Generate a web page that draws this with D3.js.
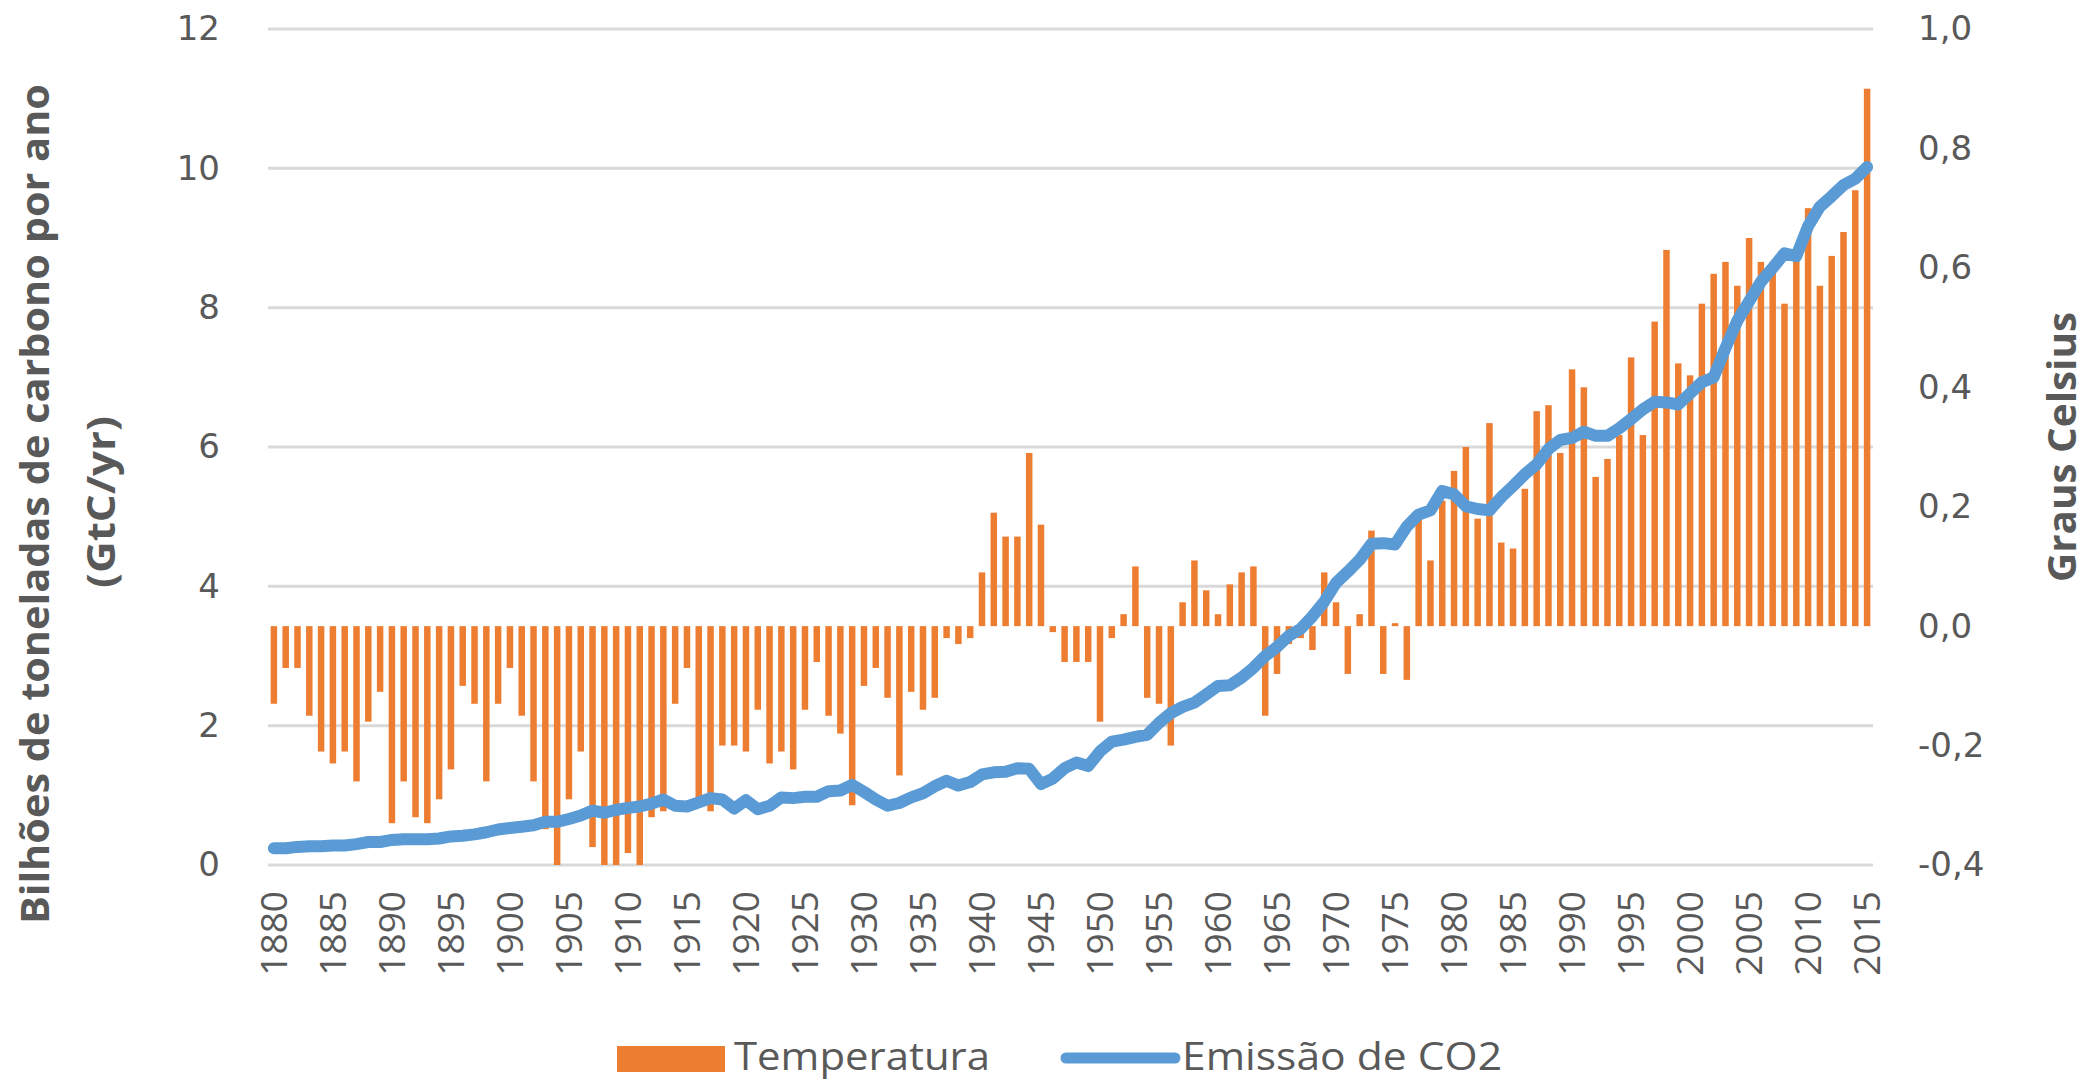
<!DOCTYPE html>
<html lang="pt">
<head>
<meta charset="utf-8">
<title>Temperatura e Emissão de CO2</title>
<script src="https://d3js.org/d3.v7.min.js"></script>
<style>
  body { margin: 0; background: #ffffff; }
  svg { display: block; }
  .tick text { fill: #595959; font-family: "Open Sans", sans-serif; }
  .yaxis .tick text { font-family: "DejaVu Sans", sans-serif; }
</style>
</head>
<body>
<script>
// anos 1880..2015
const years = d3.range(1880, 2016);

// anomalia de temperatura (graus Celsius), eixo direito
const temperatura = [
  -0.13, -0.07, -0.07, -0.15, -0.21, -0.23, -0.21, -0.26, -0.16, -0.11,
  -0.33, -0.26, -0.32, -0.33, -0.29, -0.24, -0.10, -0.13, -0.26, -0.13,
  -0.07, -0.15, -0.26, -0.34, -0.40, -0.29, -0.21, -0.37, -0.40, -0.40,
  -0.38, -0.40, -0.32, -0.31, -0.13, -0.07, -0.29, -0.31, -0.20, -0.20,
  -0.21, -0.14, -0.23, -0.21, -0.24, -0.14, -0.06, -0.15, -0.18, -0.30,
  -0.10, -0.07, -0.12, -0.25, -0.11, -0.14, -0.12, -0.02, -0.03, -0.02,
  0.09, 0.19, 0.15, 0.15, 0.29, 0.17, -0.01, -0.06, -0.06, -0.06,
  -0.16, -0.02, 0.02, 0.10, -0.12, -0.13, -0.20, 0.04, 0.11, 0.06,
  0.02, 0.07, 0.09, 0.10, -0.15, -0.08, -0.03, -0.02, -0.04, 0.09,
  0.04, -0.08, 0.02, 0.16, -0.08, 0.005, -0.09, 0.18, 0.11, 0.21,
  0.26, 0.30, 0.18, 0.34, 0.14, 0.13, 0.23, 0.36, 0.37, 0.29,
  0.43, 0.40, 0.25, 0.28, 0.32, 0.45, 0.32, 0.51, 0.63, 0.44,
  0.42, 0.54, 0.59, 0.61, 0.57, 0.65, 0.61, 0.61, 0.54, 0.62,
  0.70, 0.57, 0.62, 0.66, 0.73, 0.90
];

// emissao de CO2 (GtC/yr), eixo esquerdo
const emissao = [
  0.24, 0.24, 0.26, 0.27, 0.27, 0.28, 0.28, 0.30, 0.33, 0.33,
  0.36, 0.37, 0.37, 0.37, 0.38, 0.41, 0.42, 0.44, 0.47, 0.51,
  0.53, 0.55, 0.57, 0.62, 0.62, 0.66, 0.71, 0.78, 0.75, 0.79,
  0.82, 0.84, 0.88, 0.94, 0.85, 0.84, 0.90, 0.96, 0.94, 0.81,
  0.93, 0.80, 0.85, 0.97, 0.96, 0.98, 0.98, 1.06, 1.07, 1.15,
  1.05, 0.94, 0.85, 0.89, 0.97, 1.03, 1.13, 1.21, 1.14, 1.19,
  1.30, 1.33, 1.34, 1.39, 1.38, 1.16, 1.24, 1.39, 1.47, 1.42,
  1.63, 1.77, 1.80, 1.84, 1.87, 2.04, 2.18, 2.27, 2.33, 2.45,
  2.57, 2.58, 2.69, 2.83, 3.00, 3.13, 3.29, 3.39, 3.57, 3.78,
  4.05, 4.21, 4.38, 4.61, 4.62, 4.60, 4.86, 5.03, 5.09, 5.37,
  5.32, 5.15, 5.11, 5.09, 5.28, 5.44, 5.61, 5.75, 5.97, 6.10,
  6.13, 6.22, 6.16, 6.16, 6.27, 6.40, 6.54, 6.65, 6.64, 6.61,
  6.77, 6.93, 7.00, 7.42, 7.81, 8.09, 8.37, 8.57, 8.78, 8.74,
  9.17, 9.45, 9.60, 9.76, 9.85, 10.02
];

const leftTicks = [0, 2, 4, 6, 8, 10, 12];
const rightTicks = [-0.4, -0.2, 0, 0.2, 0.4, 0.6, 0.8, 1.0];
const yearTicks = d3.range(1880, 2016, 5);

const width = 2092, height = 1083;
const plotL = 268, plotR = 1873, plotT = 29, plotB = 865;

const svg = d3.select("body").append("svg")
  .attr("width", width)
  .attr("height", height);

const x = d3.scaleBand()
  .domain(years)
  .range([plotL, plotR])
  .paddingInner(0.45)
  .paddingOuter(0.225);

const yL = d3.scaleLinear().domain([0, 12]).range([plotB, plotT]);
const yR = d3.scaleLinear().domain([-0.4, 1.0]).range([plotB, plotT]);

const pt = d3.formatLocale({decimal: ",", thousands: ".", grouping: [3], currency: ["R$", ""], minus: "-"});
const fmtR = pt.format(".1f");

// grid
svg.append("g")
  .selectAll("line")
  .data(leftTicks)
  .join("line")
  .attr("x1", plotL)
  .attr("x2", plotR)
  .attr("y1", d => yL(d))
  .attr("y2", d => yL(d))
  .attr("stroke", "#d9d9d9")
  .attr("stroke-width", 3);

// bars (temperatura)
svg.append("g")
  .selectAll("rect")
  .data(years)
  .join("rect")
  .attr("x", d => x(d))
  .attr("width", x.bandwidth())
  .attr("y", (d, i) => temperatura[i] >= 0 ? yR(temperatura[i]) : yR(0))
  .attr("height", (d, i) => Math.abs(yR(Math.max(temperatura[i], -0.4)) - yR(0)))
  .attr("fill", "#ED7D31");

// line (emissao)
const line = d3.line()
  .x((d, i) => x(years[i]) + x.bandwidth() / 2)
  .y(d => yL(d));

svg.append("path")
  .datum(emissao)
  .attr("d", line)
  .attr("fill", "none")
  .attr("stroke", "#5B9BD5")
  .attr("stroke-width", 12)
  .attr("stroke-linejoin", "round")
  .attr("stroke-linecap", "round");

// axes
const axL = svg.append("g")
  .attr("class", "yaxis")
  .attr("transform", `translate(${plotL},0)`)
  .call(d3.axisLeft(yL).tickValues(leftTicks).tickSize(0).tickPadding(48));
axL.select(".domain").remove();
axL.selectAll("text").style("font-size", "34px");

const axR = svg.append("g")
  .attr("class", "yaxis")
  .attr("transform", `translate(${plotR},0)`)
  .call(d3.axisRight(yR).tickValues(rightTicks).tickSize(0).tickPadding(45).tickFormat(fmtR));
axR.select(".domain").remove();
axR.selectAll("text").style("font-size", "34px");

const axB = svg.append("g")
  .attr("transform", `translate(0,${plotB})`)
  .call(d3.axisBottom(x).tickValues(yearTicks).tickSize(0));
axB.select(".domain").remove();
axB.selectAll("text")
  .style("font-size", "37px")
  .attr("transform", "rotate(-90)")
  .attr("text-anchor", "end")
  .attr("x", -26)
  .attr("y", 0)
  .attr("dy", "0.36em");

// axis titles
svg.append("text")
  .attr("transform", "translate(49,504) rotate(-90)")
  .attr("text-anchor", "middle")
  .attr("textLength", 840)
  .attr("lengthAdjust", "spacingAndGlyphs")
  .style("font-family", "'Open Sans', sans-serif")
  .style("font-weight", "bold")
  .style("font-size", "40px")
  .style("fill", "#595959")
  .text("Bilhões de toneladas de carbono por ano");

svg.append("text")
  .attr("transform", "translate(115,502) rotate(-90)")
  .attr("text-anchor", "middle")
  .attr("textLength", 172)
  .attr("lengthAdjust", "spacingAndGlyphs")
  .style("font-family", "'Open Sans', sans-serif")
  .style("font-weight", "bold")
  .style("font-size", "40px")
  .style("fill", "#595959")
  .text("(GtC/yr)");

svg.append("text")
  .attr("transform", "translate(2076,447) rotate(-90)")
  .attr("text-anchor", "middle")
  .attr("textLength", 270)
  .attr("lengthAdjust", "spacingAndGlyphs")
  .style("font-family", "'Open Sans', sans-serif")
  .style("font-weight", "bold")
  .style("font-size", "40px")
  .style("fill", "#595959")
  .text("Graus Celsius");

// legend
const lg = svg.append("g");
lg.append("rect")
  .attr("x", 617).attr("y", 1046)
  .attr("width", 108).attr("height", 26)
  .attr("fill", "#ED7D31");
lg.append("text")
  .attr("x", 734).attr("y", 1070)
  .attr("textLength", 256)
  .attr("lengthAdjust", "spacingAndGlyphs")
  .style("font-family", "'Open Sans', sans-serif")
  .style("font-size", "39px")
  .style("fill", "#595959")
  .text("Temperatura");
lg.append("line")
  .attr("x1", 1066).attr("x2", 1175)
  .attr("y1", 1058).attr("y2", 1058)
  .attr("stroke", "#5B9BD5")
  .attr("stroke-width", 11)
  .attr("stroke-linecap", "round");
lg.append("text")
  .attr("x", 1182).attr("y", 1070)
  .attr("textLength", 320)
  .attr("lengthAdjust", "spacingAndGlyphs")
  .style("font-family", "'Open Sans', sans-serif")
  .style("font-size", "39px")
  .style("fill", "#595959")
  .text("Emissão de CO2");
</script>
</body>
</html>
